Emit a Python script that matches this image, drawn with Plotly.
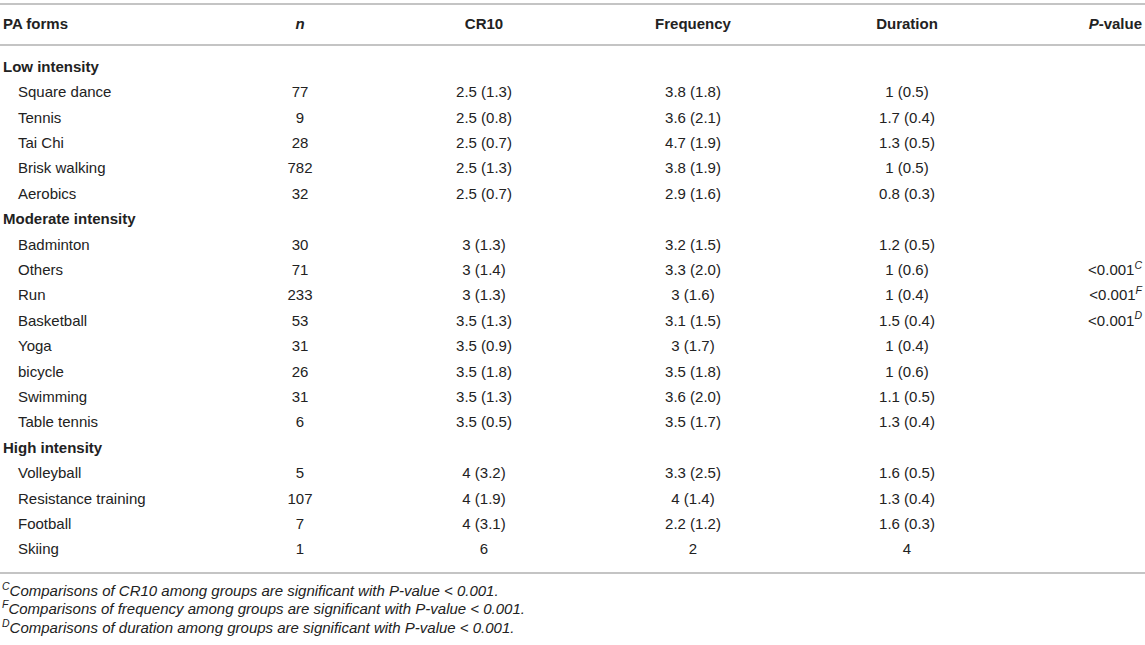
import plotly.graph_objects as go

# table content
headers = ["PA forms", "<i>n</i>", "CR10", "Frequency", "Duration", "<i>P</i>-value"]

groups = ["Low intensity", "Moderate intensity", "High intensity"]
forms = [
    ["Square dance", "Tennis", "Tai Chi", "Brisk walking", "Aerobics"],
    ["Badminton", "Others", "Run", "Basketball", "Yoga", "bicycle", "Swimming", "Table tennis"],
    ["Volleyball", "Resistance training", "Football", "Skiing"],
]
n_vals = [
    ["77", "9", "28", "782", "32"],
    ["30", "71", "233", "53", "31", "26", "31", "6"],
    ["5", "107", "7", "1"],
]
cr10 = [
    ["2.5 (1.3)", "2.5 (0.8)", "2.5 (0.7)", "2.5 (1.3)", "2.5 (0.7)"],
    ["3 (1.3)", "3 (1.4)", "3 (1.3)", "3.5 (1.3)", "3.5 (0.9)", "3.5 (1.8)", "3.5 (1.3)", "3.5 (0.5)"],
    ["4 (3.2)", "4 (1.9)", "4 (3.1)", "6"],
]
frequency = [
    ["3.8 (1.8)", "3.6 (2.1)", "4.7 (1.9)", "3.8 (1.9)", "2.9 (1.6)"],
    ["3.2 (1.5)", "3.3 (2.0)", "3 (1.6)", "3.1 (1.5)", "3 (1.7)", "3.5 (1.8)", "3.6 (2.0)", "3.5 (1.7)"],
    ["3.3 (2.5)", "4 (1.4)", "2.2 (1.2)", "2"],
]
duration = [
    ["1 (0.5)", "1.7 (0.4)", "1.3 (0.5)", "1 (0.5)", "0.8 (0.3)"],
    ["1.2 (0.5)", "1 (0.6)", "1 (0.4)", "1.5 (0.4)", "1 (0.4)", "1 (0.6)", "1.1 (0.5)", "1.3 (0.4)"],
    ["1.6 (0.5)", "1.3 (0.4)", "1.6 (0.3)", "4"],
]
p_values = [
    ["", "", "", "", ""],
    ["", "<0.001<sup><i>C</i></sup>", "<0.001<sup><i>F</i></sup>", "<0.001<sup><i>D</i></sup>", "", "", "", ""],
    ["", "", "", ""],
]
footnotes = [
    "<sup>C</sup>Comparisons of CR10 among groups are significant with P-value < 0.001.",
    "<sup>F</sup>Comparisons of frequency among groups are significant with P-value < 0.001.",
    "<sup>D</sup>Comparisons of duration among groups are significant with P-value < 0.001.",
]

W, H = 1145, 645
FONT = "Liberation Sans, Arial, Helvetica, sans-serif"
TXT = "#222222"
LINE = "#c4c4c4"

# column anchors (px)
X_GROUP, X_ITEM = 3, 18
X_N, X_CR, X_FR, X_DU, X_P = 300, 484, 693, 907, 1142

# flatten into rows
group_rows, group_y = [], []
item_y, items, c_n, c_cr, c_fr, c_du = [], [], [], [], [], []
p_y, c_p = [], []
r = 0
for g, g_name in enumerate(groups):
    group_rows.append("<b>%s</b>" % g_name)
    group_y.append(r)
    r += 1
    for k in range(len(forms[g])):
        item_y.append(r)
        items.append(forms[g][k])
        c_n.append(n_vals[g][k])
        c_cr.append(cr10[g][k])
        c_fr.append(frequency[g][k])
        c_du.append(duration[g][k])
        if p_values[g][k]:
            p_y.append(r)
            c_p.append(p_values[g][k])
        r += 1

# row r sits at pixel ROW0 + ROW_H * r
ROW0, ROW_H = 68.0, 25.4
y_top = -ROW0 / ROW_H
y_bot = (H - ROW0) / ROW_H
header_row = (25 - ROW0) / ROW_H

fig = go.Figure()


def text_col(x, y, text, pos, size=15, color=TXT):
    fig.add_trace(go.Scatter(
        x=[x] * len(y), y=y, text=text, mode="text",
        textposition=pos, textfont=dict(family=FONT, size=size, color=color),
        hoverinfo="skip", showlegend=False, cliponaxis=False,
    ))


# header
text_col(X_GROUP, [header_row], ["<b>%s</b>" % headers[0]], "middle right")
for x, h in zip([X_N, X_CR, X_FR, X_DU], headers[1:5]):
    text_col(x, [header_row], ["<b>%s</b>" % h], "middle center")
text_col(X_P, [header_row], ["<b>%s</b>" % headers[5]], "middle left")

# body
text_col(X_GROUP, group_y, group_rows, "middle right")
text_col(X_ITEM, item_y, items, "middle right")
text_col(X_N, item_y, c_n, "middle center")
text_col(X_CR, item_y, c_cr, "middle center")
text_col(X_FR, item_y, c_fr, "middle center")
text_col(X_DU, item_y, c_du, "middle center")
text_col(X_P, p_y, c_p, "middle left")

# rules
for py in [4, 45, 573]:
    fig.add_shape(type="line", xref="paper", yref="paper",
                  x0=0, x1=1, y0=1 - py / H, y1=1 - py / H,
                  line=dict(color=LINE, width=2))

# footnotes
for i, note in enumerate(footnotes):
    fig.add_annotation(
        x=0, xref="paper", xanchor="left",
        y=1 - (589 + 18.5 * i) / H, yref="paper", yanchor="middle",
        text="<i>%s</i>" % note, showarrow=False,
        font=dict(family=FONT, size=15, color=TXT),
    )

fig.update_layout(
    width=W, height=H,
    margin=dict(l=0, r=0, t=0, b=0),
    paper_bgcolor="white", plot_bgcolor="white",
    xaxis=dict(range=[0, W], visible=False, fixedrange=True),
    yaxis=dict(range=[y_bot, y_top], visible=False, fixedrange=True),
    showlegend=False,
)

fig.write_html("out.html", config={"displayModeBar": False},
               post_script="document.body.style.margin='0';")
